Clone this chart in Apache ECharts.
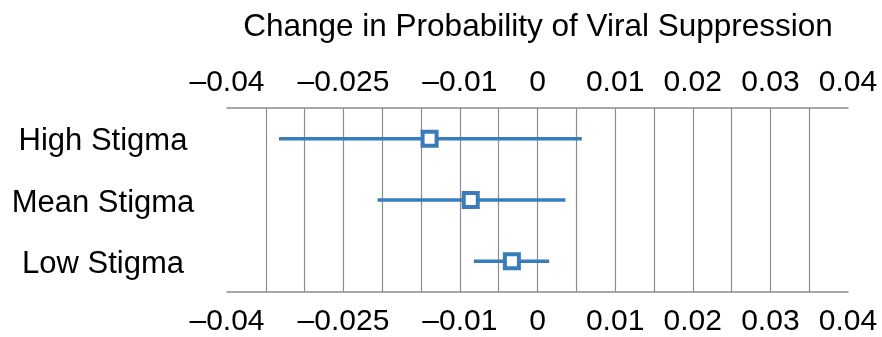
<!DOCTYPE html>
<html>
<head>
<meta charset="utf-8">
<script src="https://cdn.jsdelivr.net/npm/echarts@6/dist/echarts.min.js"></script>
<style>
html,body{margin:0;padding:0;background:#fff;}
#chart{width:882px;height:337px;}
</style>
</head>
<body>
<div id="chart"></div>
<script>
const titleText = 'Change in Probability of Viral Suppression';
const categories = ['High Stigma', 'Mean Stigma', 'Low Stigma'];
const estimates = [-0.0139, -0.0086, -0.0033];
const lowerCI = [-0.0333, -0.0206, -0.0082];
const upperCI = [0.0057, 0.0036, 0.0015];
const tickValues = [-0.04, -0.025, -0.01, 0, 0.01, 0.02, 0.03, 0.04];
const tickLabels = ['\u20130.04', '\u20130.025', '\u20130.01', '0', '0.01', '0.02', '0.03', '0.04'];

const BLUE = '#3a7bba';
const FONT = 'Liberation Sans, Arial, Helvetica, sans-serif';

function fmt(v) {
  const k = Math.round(v * 1000);
  for (let i = 0; i < tickValues.length; i++) {
    if (Math.round(tickValues[i] * 1000) === k) return tickLabels[i];
  }
  return '';
}

const chart = echarts.init(document.getElementById('chart'), null, {renderer: 'canvas'});

const axisCommon = {
  type: 'value',
  min: -0.04,
  max: 0.04,
  interval: 0.005,
  axisTick: {show: false},
  axisLine: {show: true, lineStyle: {color: '#8a8a8a', width: 1.5}},
};

chart.setOption({
  animation: false,
  backgroundColor: '#fff',
  title: {
    text: titleText,
    left: 538,
    top: 11,
    padding: 0,
    textAlign: 'center',
    textStyle: {fontFamily: FONT, fontSize: 31.5, fontWeight: 'normal', color: '#000'}
  },
  grid: {left: 227, right: 34, top: 108, bottom: 44, containLabel: false},
  xAxis: [
    Object.assign({}, axisCommon, {
      position: 'bottom',
      axisLabel: {formatter: fmt, margin: 15, fontFamily: FONT, fontSize: 30, color: '#000', showMinLabel: true, showMaxLabel: true},
      splitLine: {show: true, showMinLine: false, showMaxLine: false, lineStyle: {color: '#8c8c8c', width: 1.2}}
    }),
    Object.assign({}, axisCommon, {
      position: 'top',
      axisLabel: {formatter: fmt, margin: 10, fontFamily: FONT, fontSize: 30, color: '#000', showMinLabel: true, showMaxLabel: true},
      splitLine: {show: false}
    })
  ],
  yAxis: {
    type: 'category',
    data: categories,
    inverse: true,
    axisLine: {show: false},
    axisTick: {show: false},
    splitLine: {show: false},
    axisLabel: {
      align: 'center', margin: 124,
      formatter: function (v) { return '{a|' + v + '}'; },
      rich: {a: {fontFamily: FONT, fontSize: 31, color: '#000', padding: [6, 0, 0, 0]}}
    }
  },
  series: [
    {
      type: 'custom',
      xAxisIndex: 0,
      yAxisIndex: 0,
      data: categories.map((c, i) => [i, lowerCI[i], upperCI[i]]),
      encode: {x: [1, 2], y: 0},
      renderItem: function (params, api) {
        const y = api.value(0);
        const p1 = api.coord([api.value(1), y]);
        const p2 = api.coord([api.value(2), y]);
        return {
          type: 'line',
          shape: {x1: p1[0], y1: p1[1], x2: p2[0], y2: p2[1]},
          style: {stroke: BLUE, lineWidth: 3.5}
        };
      },
      z: 2
    },
    {
      type: 'scatter',
      xAxisIndex: 0,
      yAxisIndex: 0,
      data: categories.map((c, i) => [estimates[i], c]),
      symbol: 'rect',
      symbolSize: 14,
      itemStyle: {color: '#fff', borderColor: BLUE, borderWidth: 4, opacity: 1},
      z: 3
    }
  ]
});
</script>
</body>
</html>
